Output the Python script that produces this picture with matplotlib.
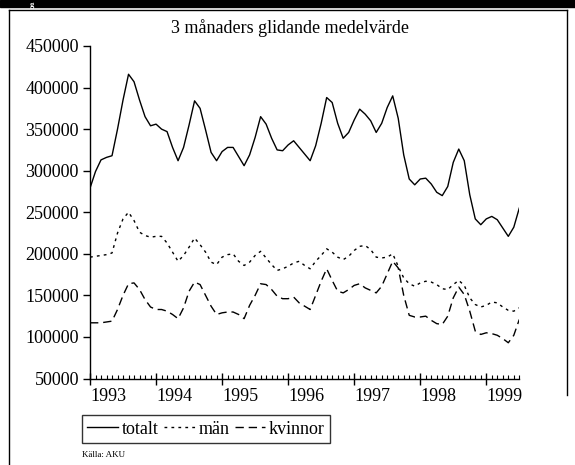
import numpy as np
import matplotlib
matplotlib.use('Agg')
import matplotlib.pyplot as plt
from matplotlib.lines import Line2D
from matplotlib.patches import Rectangle

# Monthly 3-month moving averages, Jan 1993 - Jul 1999
totalt = [279000, 299000, 313000, 316000, 318000, 350000, 385000, 416000, 407000, 385000,
          365000, 354000, 356000, 350000, 347000, 328000, 312000, 328000, 355000, 384000,
          375000, 349000, 322000, 312000, 323000, 328000, 328000, 317000, 306000, 319000,
          340000, 365000, 356000, 339000, 325000, 324000, 331000, 336000, 328000, 320000,
          312000, 330000, 357000, 388000, 382000, 357000, 339000, 346000, 361000, 374000,
          368000, 360000, 346000, 357000, 376000, 390000, 363000, 319000, 290000, 283000,
          290000, 291000, 284000, 274000, 270000, 281000, 310000, 326000, 312000, 271000,
          242000, 235000, 242000, 245000, 241000, 231000, 221000, 232000, 255000]
man = [196000, 197000, 198000, 199000, 201000, 225000, 242000, 250000, 240000, 226000,
       222000, 220000, 221000, 221000, 213000, 202000, 191000, 198000, 208000, 219000,
       211000, 202000, 190000, 187000, 196000, 199000, 200000, 191000, 186000, 190000,
       198000, 203000, 195000, 187000, 180000, 182000, 185000, 189000, 191000, 186000,
       182000, 191000, 198000, 206000, 202000, 196000, 193000, 197000, 204000, 209000,
       210000, 205000, 196000, 195000, 196000, 200000, 185000, 171000, 164000, 161000,
       165000, 167000, 166000, 163000, 158000, 157000, 163000, 168000, 162000, 147000,
       139000, 136000, 138000, 142000, 141000, 136000, 132000, 131000, 135000]
kvinnor = [117000, 117000, 117000, 118000, 119000, 133000, 150000, 164000, 165000, 157000,
           145000, 136000, 133000, 133000, 131000, 127000, 122000, 135000, 155000, 166000,
           163000, 150000, 137000, 127000, 129000, 130000, 130000, 127000, 122000, 138000,
           150000, 164000, 163000, 157000, 149000, 146000, 146000, 148000, 141000, 137000,
           133000, 150000, 167000, 182000, 168000, 155000, 153000, 157000, 162000, 164000,
           159000, 156000, 153000, 161000, 176000, 191000, 183000, 150000, 126000, 124000,
           124000, 125000, 120000, 116000, 115000, 125000, 147000, 160000, 151000, 131000,
           107000, 103000, 105000, 104000, 102000, 98000, 93000, 102000, 121000]
years = [1993, 1994, 1995, 1996, 1997, 1998, 1999]
yticks = [50000, 100000, 150000, 200000, 250000, 300000, 350000, 400000, 450000]

x = years[0] + np.arange(len(totalt)) / 12.0

plt.rcParams['font.family'] = ['Liberation Serif', 'DejaVu Serif']

fig = plt.figure(figsize=(5.75, 4.65), dpi=100)
ax = fig.add_axes([90 / 575, 1 - 378.5 / 465, 429.3 / 575, 332.5 / 465])

ax.plot(x, totalt, color='black', lw=1.0, label='totalt')
ax.plot(x, man, color='black', lw=1.0, dashes=(2, 3), label='män')
ax.plot(x, kvinnor, color='black', lw=1.0, dashes=(6, 3.5), label='kvinnor')

ax.set_xlim(x[0], x[-1])
ax.set_ylim(yticks[0], yticks[-1])
ax.set_yticks(yticks)
ax.set_yticklabels([str(v) for v in yticks])
ax.set_xticks(years)
ax.set_xticklabels([str(y) for y in years])
ax.set_xticks(x, minor=True)
for lab in ax.get_xticklabels():
    lab.set_ha('left')

ax.tick_params(axis='y', direction='out', length=5, width=1, labelsize=13, pad=3)
ax.tick_params(axis='x', which='major', direction='inout', length=8, width=1,
               labelsize=13, pad=3)
ax.tick_params(axis='x', which='minor', direction='in', length=3, width=0.8)
for side in ['top', 'right']:
    ax.spines[side].set_visible(False)
for side in ['left', 'bottom']:
    ax.spines[side].set_linewidth(1.0)

fig.text(290 / 575, 1 - 28 / 465, '3 månaders glidande medelvärde',
         ha='center', va='center', fontsize=13)

# legend box below the axis
leg = fig.legend(loc='lower left', bbox_to_anchor=(82 / 575, 1 - 443 / 465),
                 ncol=3, fontsize=13, frameon=True, fancybox=False,
                 handlelength=1.7, handletextpad=0.2, columnspacing=0.3,
                 borderpad=0.3, borderaxespad=0)
leg.get_frame().set_edgecolor('black')
leg.get_frame().set_linewidth(1.0)

fig.text(82 / 575, 1 - 455 / 465, 'Källa: AKU', ha='left', va='center', fontsize=6.5)

# black header bar and frame around the chart
fig.patches.append(Rectangle((0, 1 - 7 / 465), 1, 7 / 465, transform=fig.transFigure,
                             color='black', zorder=0))
fig.text(30 / 575, 1 - 1 / 465, 'g', color='white', ha='left', va='top',
         fontsize=6, fontweight='bold')
frame = dict(color='black', lw=1.0, transform=fig.transFigure)
fig.lines.append(Line2D([9 / 575, 567 / 575], [1 - 10 / 465, 1 - 10 / 465], **frame))
fig.lines.append(Line2D([9 / 575, 9 / 575], [0, 1 - 10 / 465], **frame))
fig.lines.append(Line2D([567 / 575, 567 / 575], [1 - 395 / 465, 1 - 10 / 465], **frame))

plt.savefig('out.png', dpi=100)
